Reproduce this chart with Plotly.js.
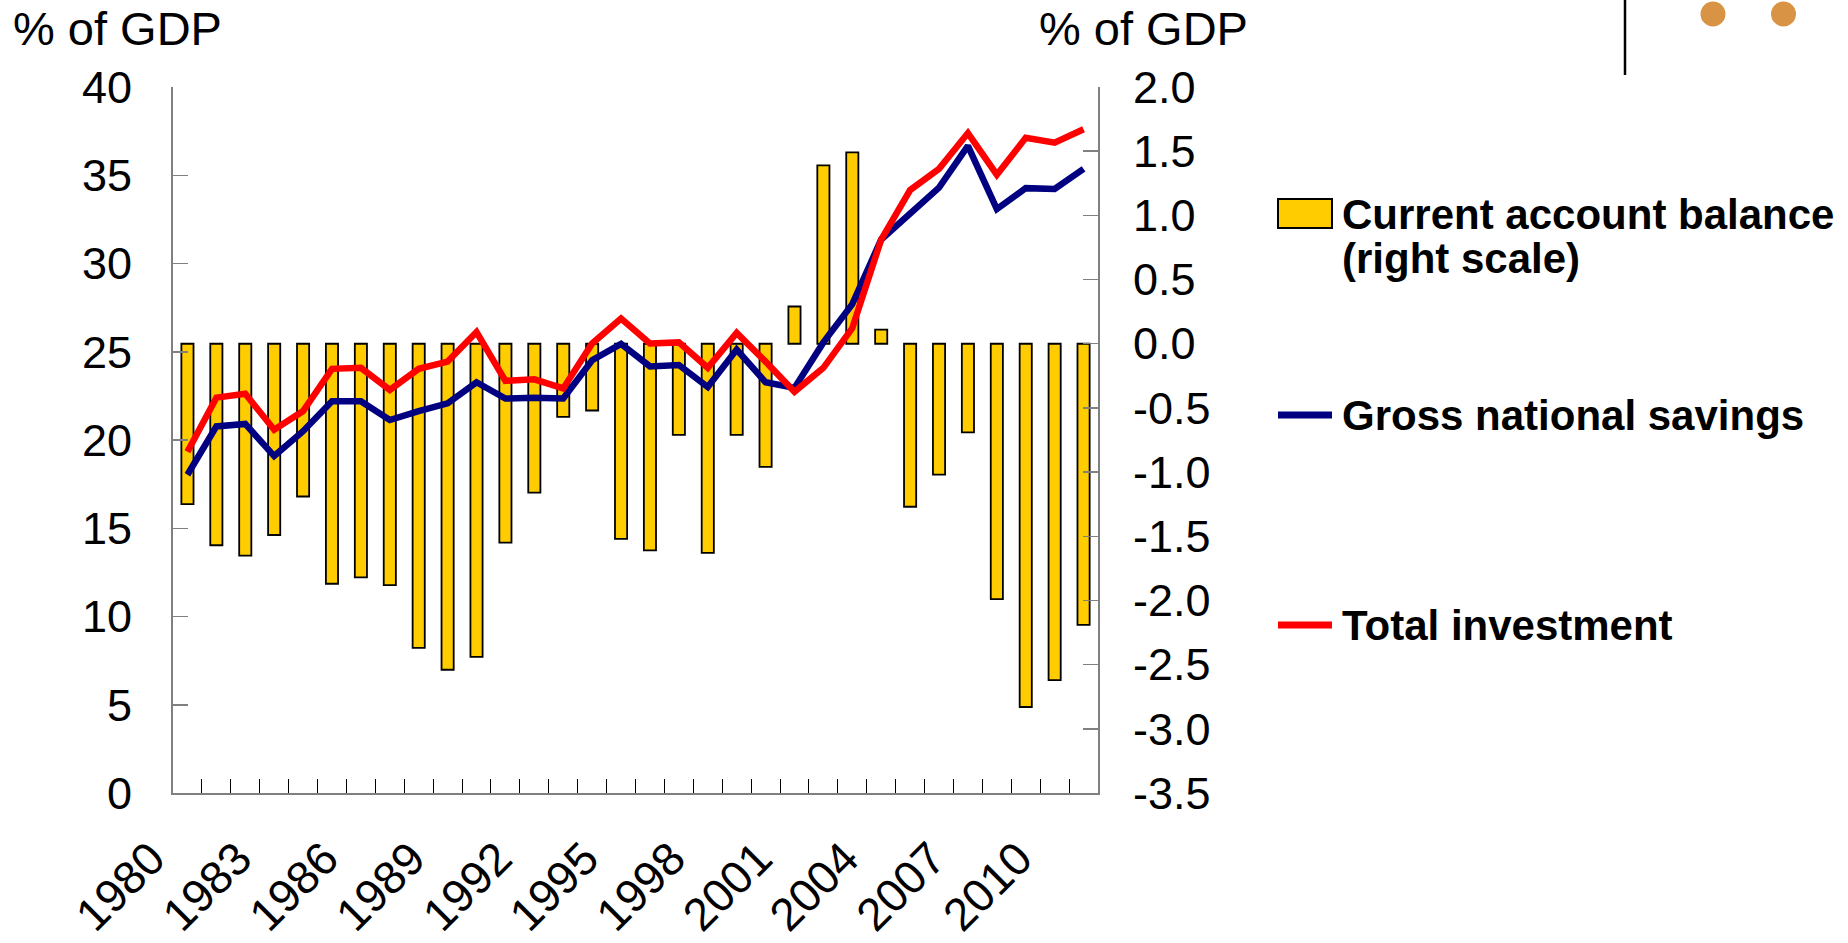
<!DOCTYPE html>
<html>
<head>
<meta charset="utf-8">
<script src="https://cdn.plot.ly/plotly-3.0.1.min.js"></script>
<style>html,body{margin:0;padding:0;background:#fff;}#chart{width:1848px;height:943px;}</style>
</head>
<body>
<div id="chart"></div>
<script>
// ---- data ----
const years = [1980,1981,1982,1983,1984,1985,1986,1987,1988,1989,1990,1991,1992,1993,1994,1995,
               1996,1997,1998,1999,2000,2001,2002,2003,2004,2005,2006,2007,2008,2009,2010,2011];
const currentAccount = [-1.25,-1.57,-1.65,-1.49,-1.19,-1.87,-1.82,-1.88,-2.37,-2.54,-2.44,-1.55,-1.16,-0.57,-0.52,-1.52,
                        -1.61,-0.71,-1.63,-0.71,-0.96,0.29,1.39,1.49,0.11,-1.27,-1.02,-0.69,-1.99,-2.83,-2.62,-2.19];
const grossSavings = [18.03,20.77,20.91,19.09,20.50,22.19,22.19,21.13,21.64,22.08,23.27,22.35,22.40,22.35,24.52,25.44,
                      24.17,24.25,23.00,25.12,23.27,22.95,25.53,27.70,31.36,32.80,34.30,36.66,33.08,34.27,34.22,35.36];
const totalInvestment = [19.33,22.40,22.62,20.58,21.64,24.03,24.09,22.84,24.03,24.44,26.12,23.35,23.44,22.92,25.47,26.88,
                         25.47,25.53,24.09,26.07,24.44,22.73,24.09,26.34,31.36,34.16,35.36,37.39,35.03,37.12,36.85,37.61];
const xTickYears = [1980,1983,1986,1989,1992,1995,1998,2001,2004,2007,2010];
const xTickText = ['1980','1983','1986','1989','1992','1995','1998','2001','2004','2007','2010'];
const leftTickVals = [0,5,10,15,20,25,30,35,40];
const leftTickText = ['0','5','10','15','20','25','30','35','40'];
const rightTickVals = [-3.5,-3.0,-2.5,-2.0,-1.5,-1.0,-0.5,0.0,0.5,1.0,1.5,2.0];
const rightTickText = ['-3.5','-3.0','-2.5','-2.0','-1.5','-1.0','-0.5','0.0','0.5','1.0','1.5','2.0'];
const seriesNames = ['Current account balance (right scale)','Gross national savings','Total investment'];
const legendLines = [['Current account balance','(right scale)'],['Gross national savings'],['Total investment']];
const axisTitle = '% of GDP';

// ---- layout helpers ----
const W = 1848, H = 943, ML = 173, MR = 750, MT = 87, MB = 150;
const PW = W - ML - MR, PH = H - MT - MB;
const px = x => (x - ML) / PW;
const py = y => (H - MB - y) / PH;
const FONT = '"Liberation Sans", Arial, sans-serif';
const YELLOW = '#FFCC00', NAVY = '#000080', RED = '#FF0000';

const boundaries = years.slice(1).map(y => y - 0.5);

const traces = [
  {type:'bar', name:seriesNames[0], x:years, y:currentAccount, xaxis:'x', yaxis:'y',
   width:0.42, marker:{color:YELLOW, line:{color:'#000', width:1.8}}, showlegend:false},
  {type:'scatter', mode:'lines', name:seriesNames[1], x:years, y:grossSavings, xaxis:'x', yaxis:'y2',
   line:{color:NAVY, width:6.5}, showlegend:false},
  {type:'scatter', mode:'lines', name:seriesNames[2], x:years, y:totalInvestment, xaxis:'x', yaxis:'y2',
   line:{color:RED, width:6.5}, showlegend:false}
];

const annotations = [
  {text:axisTitle, x:px(117), y:py(29), xref:'paper', yref:'paper', xanchor:'center', yanchor:'middle',
   showarrow:false, font:{family:FONT, size:47, color:'#000'}},
  {text:axisTitle, x:px(1143), y:py(29), xref:'paper', yref:'paper', xanchor:'center', yanchor:'middle',
   showarrow:false, font:{family:FONT, size:47, color:'#000'}}
];
const legendY = [[214,258],[415],[625]];
legendLines.forEach((lines, i) => {
  lines.forEach((t, j) => {
    annotations.push({text:t, x:px(1340), y:py(legendY[i][j]), xref:'paper', yref:'paper',
      xanchor:'left', yanchor:'middle', showarrow:false,
      font:{family:FONT, size:42, color:'#000', weight:'bold'}});
  });
});

const shapes = [
  // legend symbols
  {type:'rect', xref:'paper', yref:'paper', x0:px(1278), x1:px(1332), y0:py(199), y1:py(228),
   fillcolor:YELLOW, line:{color:'#000', width:2}},
  {type:'line', xref:'paper', yref:'paper', x0:px(1278), x1:px(1332), y0:py(415), y1:py(415),
   line:{color:NAVY, width:7}},
  {type:'line', xref:'paper', yref:'paper', x0:px(1278), x1:px(1332), y0:py(625), y1:py(625),
   line:{color:RED, width:7}},
  // decorative logo elements at top right
  {type:'line', xref:'paper', yref:'paper', x0:px(1625), x1:px(1625), y0:py(0), y1:py(75),
   line:{color:'#000', width:2.5}},
  {type:'circle', xref:'paper', yref:'paper', x0:px(1700.5), x1:px(1725.5), y0:py(1.5), y1:py(26.5),
   fillcolor:'#D99345', line:{width:0}},
  {type:'circle', xref:'paper', yref:'paper', x0:px(1771), x1:px(1796), y0:py(1.5), y1:py(26.5),
   fillcolor:'#D99345', line:{width:0}}
];

const layout = {
  width:W, height:H, margin:{l:ML, r:MR, t:MT, b:MB, pad:0},
  paper_bgcolor:'#fff', plot_bgcolor:'#fff', showlegend:false,
  font:{family:FONT, color:'#000'},
  xaxis:{type:'linear', range:[years[0]-0.5, years[years.length-1]+0.5], tickmode:'array',
    tickvals:xTickYears, ticktext:xTickText, tickangle:-45, ticks:'', showgrid:false, zeroline:false,
    showline:true, linecolor:'#808080', linewidth:2, tickfont:{size:46, family:FONT, color:'#000'},
    ticklabelstandoff:18, ticklabelshift:-36,
    minor:{tickmode:'array', tickvals:boundaries, ticks:'inside', ticklen:14, tickcolor:'#000', tickwidth:1, showgrid:false}},
  yaxis:{side:'right', range:[-3.5, 2.0], tickmode:'array', tickvals:rightTickVals, ticktext:rightTickText,
    ticks:'inside', ticklen:15, tickcolor:'#808080', tickwidth:1.5, showgrid:false, zeroline:false,
    showline:true, linecolor:'#808080', linewidth:2, tickfont:{size:45, family:FONT, color:'#000'},
    ticklabelstandoff:24},
  yaxis2:{overlaying:'y', side:'left', range:[0, 40], tickmode:'array', tickvals:leftTickVals, ticktext:leftTickText,
    ticks:'inside', ticklen:15, tickcolor:'#808080', tickwidth:1.5, showgrid:false, zeroline:false,
    showline:true, linecolor:'#808080', linewidth:2, tickfont:{size:45, family:FONT, color:'#000'},
    ticklabelstandoff:30},
  bargap:0.5,
  annotations:annotations,
  shapes:shapes
};

Plotly.newPlot('chart', traces, layout, {staticPlot:true, displayModeBar:false});
</script>
</body>
</html>
